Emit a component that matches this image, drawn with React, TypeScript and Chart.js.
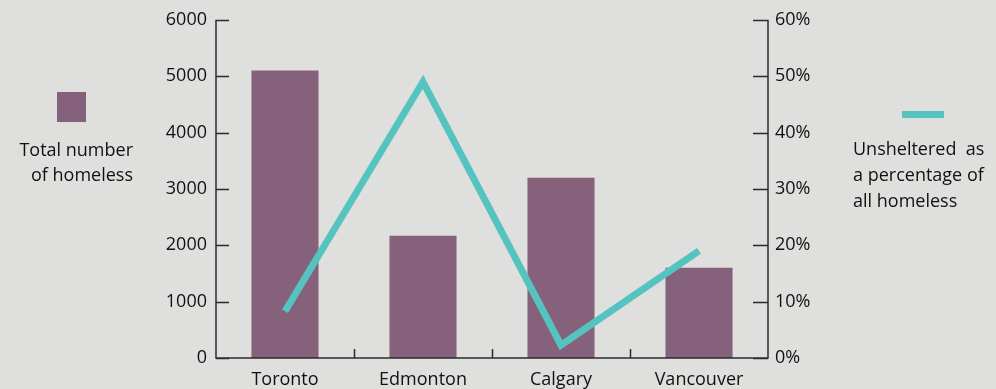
import React, { useEffect, useRef } from "react";
import { Chart, registerables } from "chart.js";

Chart.register(...registerables);

const categories = ["Toronto", "Edmonton", "Calgary", "Vancouver"];
const totalHomeless = [5100, 2170, 3200, 1600];
const unshelteredPct = [8.3, 49, 2.3, 19];
const leftTickValues = [0, 1000, 2000, 3000, 4000, 5000, 6000];
const rightTickValues = [0, 10, 20, 30, 40, 50, 60];

const BG = "#dfe0de";
const BAR = "#86617b";
const TEAL = "#55c4c1";
const AXIS = "#2b2b2b";
const TEXT = "#111111";
const FONT = "'Open Sans', 'Noto Sans', sans-serif";
const FS = 18;

const axesPlugin = {
  id: "customAxes",
  afterDatasetsDraw(chart: any) {
    const ctx = chart.ctx;
    const { left, right, top, bottom } = chart.chartArea;
    const yL = chart.scales.y;
    const yR = chart.scales.y1;
    const x = chart.scales.x;
    ctx.save();
    ctx.strokeStyle = AXIS;
    ctx.lineWidth = 1.5;
    ctx.beginPath();
    ctx.moveTo(left, top);
    ctx.lineTo(left, bottom);
    ctx.lineTo(right, bottom);
    ctx.lineTo(right, top);
    leftTickValues.forEach((v) => {
      const py = Math.round(yL.getPixelForValue(v)) + 0.5;
      ctx.moveTo(left, py);
      ctx.lineTo(left + 13, py);
    });
    rightTickValues.forEach((v) => {
      const py = Math.round(yR.getPixelForValue(v)) + 0.5;
      ctx.moveTo(right - 15, py);
      ctx.lineTo(right, py);
    });
    for (let i = 0; i < categories.length - 1; i++) {
      const px = Math.round((x.getPixelForValue(i) + x.getPixelForValue(i + 1)) / 2) + 0.5;
      ctx.moveTo(px, bottom);
      ctx.lineTo(px, bottom - 9);
    }
    ctx.stroke();
    ctx.restore();
  },
};

export default function App() {
  const canvasRef = useRef<HTMLCanvasElement | null>(null);

  useEffect(() => {
    document.body.style.margin = "0";
    document.body.style.background = BG;
    const canvas = canvasRef.current;
    if (!canvas) return;
    const chart = new Chart(canvas, {
      data: {
        labels: categories,
        datasets: [
          {
            type: "line",
            label: "Unsheltered as a percentage of all homeless",
            data: unshelteredPct,
            yAxisID: "y1",
            borderColor: TEAL,
            borderWidth: 7,
            borderJoinStyle: "miter",
            borderCapStyle: "butt",
            pointRadius: 0,
            tension: 0,
            fill: false,
            order: 0,
          } as any,
          {
            type: "bar",
            label: "Total number of homeless",
            data: totalHomeless,
            yAxisID: "y",
            backgroundColor: BAR,
            borderWidth: 0,
            categoryPercentage: 1,
            barPercentage: 0.486,
            order: 1,
          } as any,
        ],
      },
      options: {
        responsive: false,
        animation: false,
        layout: { padding: { top: 18, left: 0, right: 0, bottom: 0 } },
        plugins: { legend: { display: false }, tooltip: { enabled: false } },
        scales: {
          x: {
            type: "category",
            offset: true,
            grid: { display: false, drawTicks: false },
            border: { display: false },
            ticks: {
              color: TEXT,
              font: { family: FONT, size: FS },
              padding: 11,
              maxRotation: 0,
              autoSkip: false,
            },
            afterFit(scale: any) {
              scale.height = 31;
            },
          },
          y: {
            type: "linear",
            position: "left",
            min: 0,
            max: 6000,
            grid: { display: false, drawTicks: false },
            border: { display: false },
            ticks: {
              stepSize: 1000,
              color: TEXT,
              font: { family: FONT, size: FS },
              padding: 9,
              callback: (v: any) => String(v),
            },
            afterFit(scale: any) {
              scale.width = 216;
            },
          },
          y1: {
            type: "linear",
            position: "right",
            min: 0,
            max: 60,
            grid: { display: false, drawTicks: false },
            border: { display: false },
            ticks: {
              stepSize: 10,
              color: TEXT,
              font: { family: FONT, size: FS },
              padding: 7,
              callback: (v: any) => `${v}%`,
            },
            afterFit(scale: any) {
              scale.width = 228;
            },
          },
        },
      },
      plugins: [axesPlugin],
    } as any);
    return () => chart.destroy();
  }, []);

  const textStyle: React.CSSProperties = {
    position: "absolute",
    fontFamily: FONT,
    fontSize: FS,
    color: TEXT,
    whiteSpace: "pre",
  };

  return (
    <div
      style={{
        position: "absolute",
        left: 0,
        top: 0,
        width: 996,
        height: 389,
        background: BG,
        overflow: "hidden",
      }}
    >
      <canvas ref={canvasRef} width={996} height={389} style={{ position: "absolute", left: 0, top: 0 }} />
      <div style={{ position: "absolute", left: 57, top: 92, width: 29, height: 30, background: BAR }} />
      <div style={{ ...textStyle, left: 0, top: 137, width: 133, textAlign: "right", lineHeight: "25px" }}>
        {"Total number\nof homeless"}
      </div>
      <div style={{ position: "absolute", left: 902, top: 111, width: 42, height: 7, background: TEAL }} />
      <div style={{ ...textStyle, left: 853, top: 135, lineHeight: "26px" }}>
        {"Unsheltered  as\na percentage of\nall homeless"}
      </div>
    </div>
  );
}
